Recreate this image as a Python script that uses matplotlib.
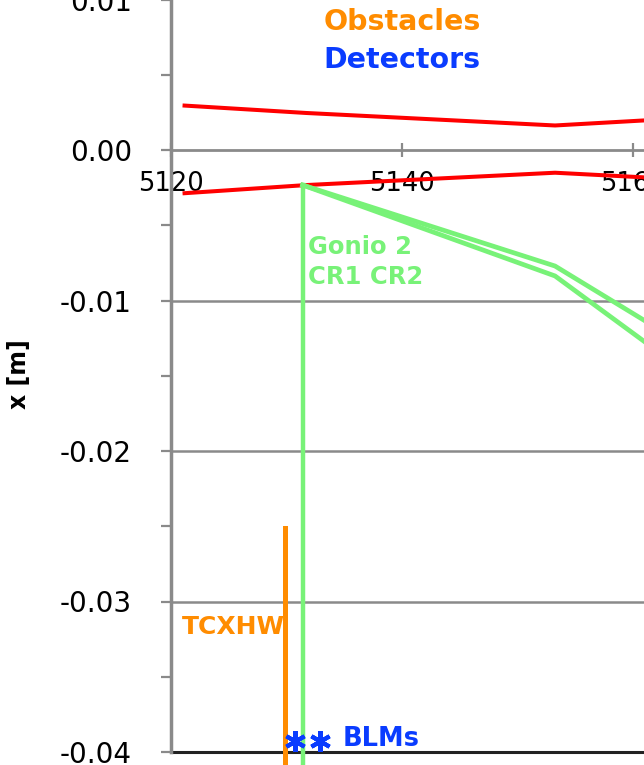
import matplotlib
matplotlib.use("Agg")
import matplotlib.pyplot as plt
from matplotlib.ticker import MultipleLocator, FixedLocator

# aperture envelope (red)
env_s = [5121.0, 5131.7, 5153.25, 5162.0]
env_upper = [0.00296, 0.00246, 0.00163, 0.00201]
env_lower = [-0.00288, -0.00233, -0.00151, -0.00186]

# Gonio 2 crystals CR1 / CR2 (green)
gonio_s = 5131.4
gonio_top = -0.00233
gonio_bottom = -0.0409
cr_s = [5131.4, 5153.25, 5162.0]
cr1_x = [-0.00233, -0.00771, -0.01180]
cr2_x = [-0.00233, -0.00837, -0.01330]

# TCXHW obstacle (orange)
tcxhw_s = 5129.9
tcxhw_top = -0.0251
tcxhw_bottom = -0.0409

# BLM detectors (blue)
blm_s = [5130.75, 5132.9]
blm_x = [-0.03927, -0.03927]

x_ticks = [5120, 5140, 5160, 5180]

red = "#FF0000"
green = "#78F278"
orange = "#FF8C00"
blue = "#0A3CFF"
grey = "#8A8A8A"

fig = plt.figure(figsize=(6.44, 7.65), dpi=100)
W, H = 644, 765
ax = fig.add_axes([171 / W, 13 / H, 693 / W, 752.5 / H])
ax.set_xlim(5120, 5180)
ax.set_ylim(-0.04, 0.01)

# grid and axes styling (Excel-like)
for y in [-0.01, -0.02, -0.03]:
    ax.axhline(y, color=grey, lw=1.8, zorder=1)
ax.axhline(-0.04, color="#222222", lw=2.2, zorder=1, clip_on=False)

ax.spines["top"].set_visible(False)
ax.spines["right"].set_visible(False)
ax.spines["left"].set_color(grey)
ax.spines["left"].set_linewidth(2.5)
ax.spines["bottom"].set_position(("data", 0))
ax.spines["bottom"].set_color(grey)
ax.spines["bottom"].set_linewidth(2.0)

ax.yaxis.set_major_locator(MultipleLocator(0.01))
ax.yaxis.set_minor_locator(MultipleLocator(0.005))
ax.yaxis.set_major_formatter(matplotlib.ticker.FormatStrFormatter("%.2f"))
ax.tick_params(axis="y", which="both", direction="out", length=7.2, width=1.6,
               color=grey, pad=21, labelsize=20)
ax.xaxis.set_major_locator(FixedLocator(x_ticks))
ax.tick_params(axis="x", which="major", direction="inout", length=10, width=1.6,
               color=grey, pad=10, labelsize=18.5)

# envelope
ax.plot(env_s, env_upper, color=red, lw=2.9, zorder=3, solid_capstyle="butt")
ax.plot(env_s, env_lower, color=red, lw=2.9, zorder=3, solid_capstyle="butt")

# obstacle
ax.plot([tcxhw_s, tcxhw_s], [tcxhw_top, tcxhw_bottom], color=orange, lw=3.6,
        zorder=4, clip_on=False)

# goniometer and crystals
ax.plot([gonio_s, gonio_s], [gonio_top, gonio_bottom], color=green, lw=3.2,
        zorder=4, clip_on=False)
ax.plot(cr_s, cr1_x, color=green, lw=3.4, zorder=4)
ax.plot(cr_s, cr2_x, color=green, lw=3.4, zorder=4)

# detectors
ax.plot(blm_s, blm_x, ls="none", marker=(6, 2, 0), ms=15, mew=3,
        color=blue, zorder=5)

# annotations
ax.text(5140, 0.0085, "Obstacles", color=orange, fontsize=20.5,
        fontweight="bold", ha="center", va="center")
ax.text(5140, 0.00598, "Detectors", color=blue, fontsize=20.5,
        fontweight="bold", ha="center", va="center")
ax.text(5131.9, -0.00645, "Gonio 2", color=green, fontsize=17.5,
        fontweight="bold", ha="left", va="center")
ax.text(5131.9, -0.00844, "CR1 CR2", color=green, fontsize=17.5,
        fontweight="bold", ha="left", va="center")
ax.text(5120.9, -0.0317, "TCXHW", color=orange, fontsize=18, fontweight="bold",
        ha="left", va="center", zorder=3)
ax.text(5134.9, -0.03914, "BLMs", color=blue, fontsize=18.5, fontweight="bold",
        ha="left", va="center")

fig.text(19 / W, 1 - 374 / H, "x [m]", rotation=90, fontsize=17,
         fontweight="bold", ha="center", va="center")

fig.savefig("out.png", dpi=100)
